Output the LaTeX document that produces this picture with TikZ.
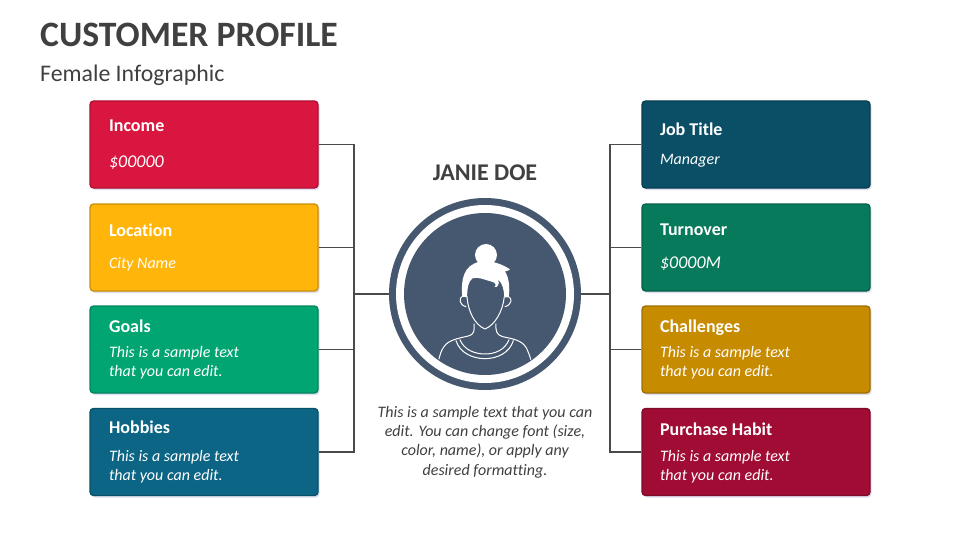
\documentclass[tikz,border=0pt]{standalone}
\usepackage{fontspec}
\setmainfont[Ligatures=NoCommon]{Carlito}
\usetikzlibrary{shadows}
\definecolor{inkdark}{HTML}{404040}
\definecolor{linedark}{HTML}{4A4A4A}
\definecolor{avatarblue}{HTML}{465870}
\tikzset{
	profilebox/.style={rectangle, rounded corners=3.5pt, minimum width=228pt, minimum height=87pt, inner sep=0pt, line width=1.3pt, drop shadow={shadow xshift=1.5pt, shadow yshift=-2pt, opacity=0.18, fill=blue!40!gray}},
	headtext/.style={anchor=west, inner sep=0pt, text=white, font=\bfseries\fontsize{18}{20}\selectfont},
	bodytext/.style={anchor=west, inner sep=0pt, text=white, align=left, font=\itshape\fontsize{16}{19}\selectfont},
	bigbody/.style={bodytext, font=\itshape\fontsize{18}{22}\selectfont},
	wire/.style={draw=linedark, line width=1.8pt},
	thickwire/.style={draw=linedark, line width=2.8pt},
	avatarline/.style={draw=white, line width=1pt, line join=round, line cap=round},
}
\begin{document}
\begin{tikzpicture}[x=1pt, y=-1pt]
	\useasboundingbox[fill=white] (0,0) rectangle (960,540);

	\node[anchor=west, inner sep=0pt, text=inkdark, font=\bfseries\fontsize{35.7}{40}\selectfont] (title) at (40,35) {CUSTOMER PROFILE};
	\node[anchor=west, inner sep=0pt, text=inkdark, font=\fontsize{23.8}{26}\selectfont] (subtitle) at (40,75) {Female Infographic};

	% boxes
	\foreach \id/\fillcol/\linecol/\cx/\cy/\tx/\head/\heady/\bstyle/\body/\bodyy in {
		income/D9163F/B00F32/204/144.5/19.5/Income/126/bigbody/{\$00000}/163,
		location/FFB50A/CC8F05/204/247.5/19.5/Location/230/bodytext/{City Name}/264,
		goals/00A572/02855C/204/349.5/19.5/Goals/326/bodytext/{This is a sample text\\that you can edit.}/362.5,
		hobbies/0C6585/0A5069/204/452/19.5/Hobbies/427/bodytext/{This is a sample text\\that you can edit.}/466.5,
		jobtitle/0A4F66/083E50/756/144.5/18.5/Job Title/129/bodytext/{Manager}/161,
		turnover/067A5B/056148/756/247.5/18.5/Turnover/230/bigbody/{\$0000M}/264,
		challenges/C78B00/A06F00/756/349.5/18.5/Challenges/328/bodytext/{This is a sample text\\that you can edit.}/362.5,
		purchase/A00C33/800A29/756/452/18.5/Purchase Habit/429/bodytext/{This is a sample text\\that you can edit.}/466.5%
	}{
		\definecolor{boxfill}{HTML}{\fillcol}
		\definecolor{boxline}{HTML}{\linecol}
		\node[profilebox, fill=boxfill, draw=boxline] (\id) at (\cx,\cy) {};
		\node[headtext] (\id head) at (\id.west) [xshift=\tx pt, yshift=\cy pt-\heady pt] {\head};
		\node[\bstyle] (\id body) at (\id.west) [xshift=\tx pt, yshift=\cy pt-\bodyy pt] {\body};
	}

	% avatar
	\node[circle, fill=avatarblue, minimum size=192pt, inner sep=0pt] (ringouter) at (485,294) {};
	\node[circle, fill=white, minimum size=178pt, inner sep=0pt] (ringwhite) at (485,294) {};
	\node[circle, fill=avatarblue, minimum size=162pt, inner sep=0pt] (disc) at (485,294) {};

	% connectors
	\coordinate (leftbus) at (354,294);
	\coordinate (rightbus) at (610,294);
	\draw[wire] (income.east) -| (leftbus);
	\draw[wire] (hobbies.east) -| (leftbus);
	\draw[wire] (location.east) -- (location.east -| leftbus);
	\draw[wire] (goals.east) -- (goals.east -| leftbus);
	\draw[wire] (jobtitle.west) -| (rightbus);
	\draw[wire] (purchase.west) -| (rightbus);
	\draw[wire] (turnover.west) -- (turnover.west -| rightbus);
	\draw[wire] (challenges.west) -- (challenges.west -| rightbus);
	\draw[thickwire] (leftbus) -- (ringouter.west);
	\draw[thickwire] (rightbus) -- (ringouter.east);

	\begin{scope}[shift={(370,190)}, x=0.3333pt, y=-0.3333pt]
		% bun and hair
		\fill[white] (348,195) circle (33);
		\fill[white] (277,320) .. controls (272,270) and (280,225) .. (330,215)
			.. controls (365,210) and (395,222) .. (420,238)
			.. controls (415,242) and (410,244) .. (405,244)
			.. controls (418,265) and (420,295) .. (416,322)
			-- (403,322)
			.. controls (402,300) and (398,280) .. (384,268)
			.. controls (390,280) and (384,294) .. (373,291)
			.. controls (380,286) and (378,278) .. (365,275)
			.. controls (340,268) and (322,260) .. (308,265)
			.. controls (295,272) and (292,295) .. (291,322) -- cycle;
		% face, neck, shoulders
		\draw[avatarline] (291,320) .. controls (294,365) and (315,405) .. (345,417)
			.. controls (375,405) and (398,365) .. (403,320);
		\draw[avatarline] (278,318) .. controls (265,325) and (268,345) .. (288,350);
		\draw[avatarline] (416,320) .. controls (428,325) and (425,345) .. (405,350);
		\draw[avatarline] (312,402) .. controls (313,420) and (315,432) .. (295,438)
			.. controls (265,445) and (235,450) .. (222,470) .. controls (213,482) and (210,495) .. (207,507);
		\draw[avatarline] (378,402) .. controls (377,420) and (378,435) .. (398,440)
			.. controls (425,446) and (455,450) .. (468,472) .. controls (475,485) and (479,497) .. (482,508);
		\draw[avatarline] (258,452) .. controls (270,490) and (310,506) .. (345,506) .. controls (380,506) and (418,490) .. (430,452);
		\draw[avatarline] (270,449) .. controls (282,480) and (315,492) .. (345,492) .. controls (375,492) and (405,480) .. (417,449);
	\end{scope}

	\node[text=inkdark, inner sep=0pt, font=\bfseries\fontsize{24}{26}\selectfont] (name) at (485,173) {JANIE DOE};
	\node[text=inkdark, inner sep=0pt, align=center, font=\itshape\fontsize{16}{19.3}\selectfont] (note) at (485,442) {This is a sample text that you can\\edit. You can change font (size,\\color, name), or apply any\\desired formatting.};
\end{tikzpicture}
\end{document}
